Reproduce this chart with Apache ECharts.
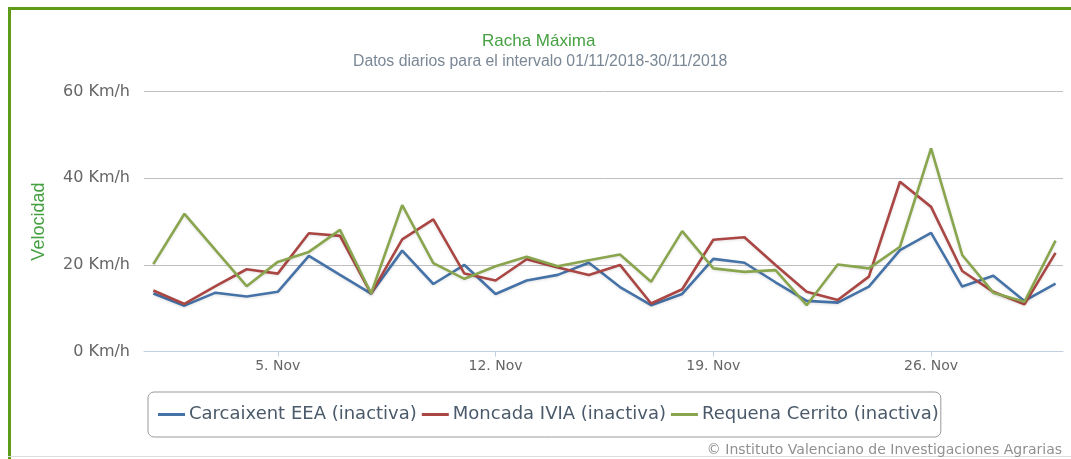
<!DOCTYPE html>
<html>
<head>
<meta charset="utf-8">
<script src="https://cdn.jsdelivr.net/npm/echarts@6/dist/echarts.min.js"></script>
<style>
  html, body { margin: 0; padding: 0; background: #fff; }
  #chart { width: 1071px; height: 459px; }
</style>
</head>
<body>
<div id="chart"></div>
<script>
// days of November 2018
const days = [1, 2, 3, 4, 5, 6, 7, 8, 9, 10, 11, 12, 13, 14, 15, 16, 17, 18, 19, 20,
  21, 22, 23, 24, 25, 26, 27, 28, 29, 30]
const carcaixent = [13.4, 10.6, 13.6, 12.7, 13.8, 22.1, 17.7, 13.4, 23.3, 15.6,
  20.0, 13.3, 16.4, 17.7, 20.5, 14.9, 10.7, 13.3, 21.4, 20.5,
  16.0, 11.7, 11.3, 15.0, 23.4, 27.4, 15.0, 17.5, 11.7, 15.7]
const moncada = [14.1, 11.0, 15.1, 19.0, 18.0, 27.3, 26.7, 13.4, 25.9, 30.5,
  18.0, 16.4, 21.3, 19.4, 17.7, 20.0, 11.1, 14.4, 25.8, 26.4,
  20.0, 13.8, 11.9, 17.3, 39.2, 33.4, 18.6, 13.8, 10.9, 22.8]
const requena = [20.2, 31.8, 23.4, 15.1, 20.7, 23.0, 28.1, 13.4, 33.8, 20.4,
  16.8, 19.7, 21.9, 19.7, 21.1, 22.4, 16.1, 27.8, 19.2, 18.4,
  18.8, 10.7, 20.1, 19.2, 24.2, 46.9, 22.3, 13.6, 11.5, 25.6]
const tickDays = [5, 12, 19, 26]
const tickLabels = ['5. Nov', '12. Nov', '19. Nov', '26. Nov']
const seriesNames = ['Carcaixent EEA (inactiva)', 'Moncada IVIA (inactiva)', 'Requena Cerrito (inactiva)']
const PALETTE = ['#4572a7', '#aa4643', '#89a54e']

const chart = echarts.init(document.getElementById('chart'), null, { renderer: 'canvas' })

function line(name, values, i) {
  return {
    name, type: 'line', showSymbol: false, symbol: 'none',
    data: days.map((d, k) => [d, values[k]]),
    lineStyle: {
      width: 2.6, color: PALETTE[i],
      shadowColor: 'rgba(0,0,0,0.12)', shadowBlur: 3, shadowOffsetY: 1,
    },
    itemStyle: { color: PALETTE[i] },
  }
}

chart.setOption({
  animation: false,
  color: PALETTE,
  textStyle: { fontFamily: 'DejaVu Sans' },
  title: [
    { text: 'Racha Máxima', left: 482, top: 33, padding: 0,
      textStyle: { color: '#45a041', fontSize: 17, fontWeight: 'normal', fontFamily: 'Liberation Sans' } },
    { text: 'Datos diarios para el intervalo 01/11/2018-30/11/2018', left: 353, top: 54, padding: 0,
      textStyle: { color: '#7a8795', fontSize: 15.8, fontWeight: 'normal', fontFamily: 'Liberation Sans' } },
    { text: '© Instituto Valenciano de Investigaciones Agrarias', right: 9, top: 443, padding: 0,
      textStyle: { color: '#909090', fontSize: 14, fontWeight: 'normal', fontFamily: 'DejaVu Sans' } },
  ],
  graphic: [
    { type: 'rect', shape: { x: 8, y: 7, width: 1063, height: 3 }, style: { fill: '#5e9c17' }, silent: true },
    { type: 'rect', shape: { x: 8, y: 7, width: 3, height: 452 }, style: { fill: '#5e9c17' }, silent: true },
    { type: 'rect', shape: { x: 8, y: 456, width: 1063, height: 1 }, style: { fill: '#dddddd' }, silent: true },
  ],
  legend: {
    data: seriesNames,
    left: 148, top: 392,
    padding: [12, 2, 12, 10],
    borderColor: '#999', borderWidth: 1, borderRadius: 6,
    icon: 'rect', itemWidth: 27, itemHeight: 3, itemGap: 5,
    textStyle: { color: '#4a5a6a', fontSize: 18, fontFamily: 'DejaVu Sans', lineHeight: 21, padding: [0, 0, 0, -1] },
  },
  grid: { left: 144, right: 8, top: 91.6, bottom: 107.4, containLabel: false },
  xAxis: {
    type: 'value', min: 0.7, max: 30.24,
    splitLine: { show: false },
    axisLine: { lineStyle: { color: '#c0d0e0', width: 1 } },
    axisTick: { show: true, customValues: tickDays, length: 5, lineStyle: { color: '#c0d0e0' } },
    axisLabel: {
      customValues: tickDays,
      formatter: (v) => tickLabels[tickDays.indexOf(v)],
      color: '#666', fontSize: 14, fontFamily: 'DejaVu Sans', margin: 8,
    },
  },
  yAxis: {
    type: 'value', min: 0, max: 60, interval: 20,
    name: 'Velocidad', nameLocation: 'middle', nameGap: 96, nameRotate: 90,
    nameTextStyle: { color: '#45a041', fontSize: 18, fontFamily: 'Liberation Sans' },
    axisLine: { show: false }, axisTick: { show: false },
    splitLine: { lineStyle: { color: '#c0c0c0', width: 1 } },
    axisLabel: { formatter: '{value} Km/h', color: '#666', fontSize: 16, fontFamily: 'DejaVu Sans', margin: 14 },
  },
  series: [
    line(seriesNames[0], carcaixent, 0),
    line(seriesNames[1], moncada, 1),
    line(seriesNames[2], requena, 2),
  ],
})
</script>
</body>
</html>
